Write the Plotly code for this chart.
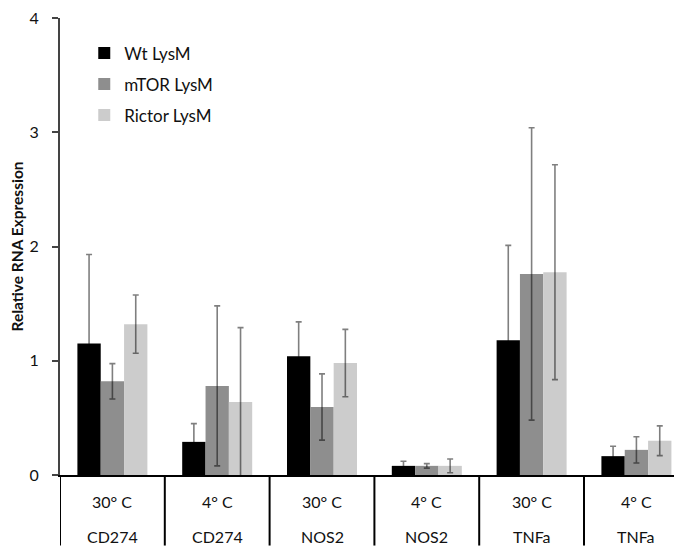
import plotly.graph_objects as go

conditions = ["30° C", "4° C", "30° C", "4° C", "30° C", "4° C"]
genes = ["CD274", "CD274", "NOS2", "NOS2", "TNFa", "TNFa"]
series_names = ["Wt LysM", "mTOR LysM", "Rictor LysM"]
wt_values = [1.15, 0.29, 1.04, 0.08, 1.18, 0.165]
wt_errors = [0.78, 0.16, 0.30, 0.04, 0.83, 0.087]
mtor_values = [0.82, 0.78, 0.595, 0.08, 1.76, 0.22]
mtor_errors = [0.155, 0.70, 0.29, 0.02, 1.28, 0.115]
rictor_values = [1.32, 0.64, 0.98, 0.08, 1.775, 0.30]
rictor_errors = [0.255, 0.65, 0.295, 0.06, 0.94, 0.13]
y_ticks = [0, 1, 2, 3, 4]

colors = ["#000000", "#8e8e8e", "#cccccc"]
keys = [f"{g} {c} #{i}" for i, (g, c) in enumerate(zip(genes, conditions))]

FONT = "Lato"
fig = go.Figure()
for k, (name, vals, errs) in enumerate(zip(series_names,
                                            [wt_values, mtor_values, rictor_values],
                                            [wt_errors, mtor_errors, rictor_errors])):
    fig.add_trace(go.Bar(
        x=keys, y=vals, name=name, legendgroup=name,
        marker=dict(color=colors[k], line=dict(width=0)),
        error_y=dict(type="data", array=errs, visible=True,
                     color="rgba(0,0,0,0.5)", thickness=1.6, width=3),
    ))

annotations = []
shapes = []
for i, (c, g) in enumerate(zip(conditions, genes)):
    annotations.append(dict(x=keys[i], xref="x", y=-27/460, yref="paper",
                            text=c, showarrow=False, yanchor="middle",
                            font=dict(family=FONT, size=16, color="#111111")))
    annotations.append(dict(x=keys[i], xref="x", y=-62/460, yref="paper",
                            text=g, showarrow=False, yanchor="middle",
                            font=dict(family=FONT, size=16, color="#111111")))
for i in range(len(keys) + 1):
    shapes.append(dict(type="line", xref="x", yref="paper",
                       x0=i - 0.5, x1=i - 0.5, y0=0, y1=-71/460,
                       line=dict(color="#000000", width=2)))

fig.update_layout(
    width=674, height=540,
    margin=dict(l=52, r=0, t=7, b=73, pad=0),
    paper_bgcolor="white", plot_bgcolor="white",
    barmode="group", bargap=0.332, bargroupgap=0,
    font=dict(family=FONT, size=16, color="#111111"),
    showlegend=True,
    legend=dict(x=0.039, y=0.962, xanchor="left", yanchor="top",
                traceorder="grouped", tracegroupgap=6,
                bgcolor="rgba(0,0,0,0)", font=dict(family=FONT, size=17, color="#111111")),
    xaxis=dict(type="category", range=[-0.5, 5.435], showticklabels=False,
               ticks="", showline=True, linecolor="#000000", linewidth=2,
               showgrid=False, zeroline=False, fixedrange=True),
    yaxis=dict(range=[0, 4], tickvals=y_ticks, ticks="outside", ticklen=6,
               tickwidth=2, tickcolor="#444444", showline=True,
               linecolor="#444444", linewidth=2, showgrid=False, zeroline=False,
               ticklabelstandoff=10, ticklabeloverflow="allow",
               tickfont=dict(family=FONT, size=16, color="#111111"),
               title=dict(text="<b>Relative RNA Expression</b>", standoff=4,
                          font=dict(family=FONT, size=15.5, color="#111111"))),
    annotations=annotations, shapes=shapes,
)

fig.write_html("out.html")
